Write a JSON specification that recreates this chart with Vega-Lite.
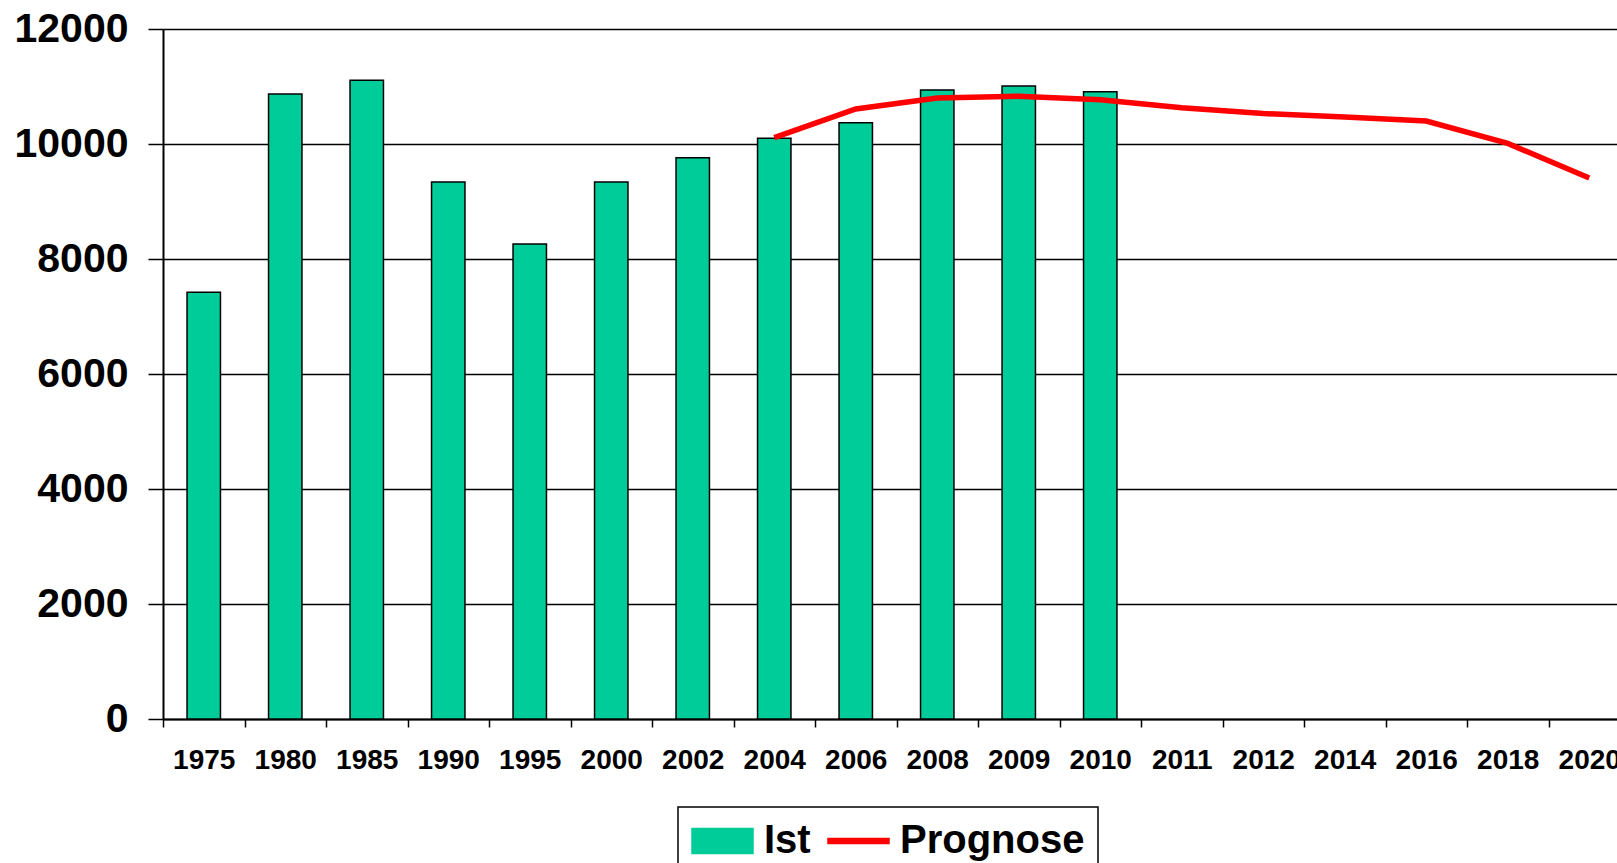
{
  "$schema": "https://vega.github.io/schema/vega-lite/v6.json",
  "autosize": {"type": "none"},
  "width": 1454,
  "height": 690,
  "padding": {"left": 163, "top": 29, "right": 0, "bottom": 144},
  "background": "white",
  "config": {
    "view": {"stroke": null},
    "font": "Liberation Sans"
  },
  "data": {
    "values": [
      {"year": "1975", "series": "Ist", "value": 7420},
      {"year": "1980", "series": "Ist", "value": 10870},
      {"year": "1985", "series": "Ist", "value": 11110},
      {"year": "1990", "series": "Ist", "value": 9340},
      {"year": "1995", "series": "Ist", "value": 8260},
      {"year": "2000", "series": "Ist", "value": 9340},
      {"year": "2002", "series": "Ist", "value": 9760},
      {"year": "2004", "series": "Ist", "value": 10100},
      {"year": "2006", "series": "Ist", "value": 10370},
      {"year": "2008", "series": "Ist", "value": 10940},
      {"year": "2009", "series": "Ist", "value": 11010},
      {"year": "2010", "series": "Ist", "value": 10910},
      {"year": "2004", "series": "Prognose", "value": 10110},
      {"year": "2006", "series": "Prognose", "value": 10610},
      {"year": "2008", "series": "Prognose", "value": 10800},
      {"year": "2009", "series": "Prognose", "value": 10830},
      {"year": "2010", "series": "Prognose", "value": 10770},
      {"year": "2011", "series": "Prognose", "value": 10630},
      {"year": "2012", "series": "Prognose", "value": 10530},
      {"year": "2014", "series": "Prognose", "value": 10470},
      {"year": "2016", "series": "Prognose", "value": 10400},
      {"year": "2018", "series": "Prognose", "value": 10010},
      {"year": "2020", "series": "Prognose", "value": 9410}
    ]
  },
  "encoding": {
    "x": {
      "field": "year",
      "type": "ordinal",
      "sort": ["1975","1980","1985","1990","1995","2000","2002","2004","2006","2008","2009","2010","2011","2012","2014","2016","2018","2020"],
      "scale": {
        "domain": ["1975","1980","1985","1990","1995","2000","2002","2004","2006","2008","2009","2010","2011","2012","2014","2016","2018","2020"],
        "type": "band", "paddingInner": 0, "paddingOuter": 0, "range": [0, 1467]
      },
      "axis": {
        "title": null,
        "labelAngle": 0,
        "labelFont": "Liberation Sans",
        "labelFontWeight": "bold",
        "labelFontSize": 28,
        "labelColor": "black",
        "labelPadding": 19,
        "tickBand": "extent",
        "tickSize": 8,
        "tickWidth": 1.5,
        "tickColor": "black",
        "domainColor": "black",
        "domainWidth": 2,
        "grid": false,
        "labelOverlap": false
      }
    },
    "y": {
      "field": "value",
      "type": "quantitative",
      "scale": {"domain": [0, 12000], "nice": false, "zero": true},
      "axis": {
        "title": null,
        "values": [0, 2000, 4000, 6000, 8000, 10000, 12000],
        "format": "d",
        "labelFont": "Liberation Sans",
        "labelFontWeight": "bold",
        "labelFontSize": 41,
        "labelColor": "black",
        "labelPadding": 20,
        "tickSize": 15,
        "tickWidth": 1.5,
        "tickColor": "black",
        "domainColor": "black",
        "domainWidth": 2,
        "grid": true,
        "gridColor": "black",
        "gridWidth": 1.5,
        "gridOpacity": 1
      }
    },
    "color": {
      "field": "series",
      "type": "nominal",
      "scale": {"domain": ["Ist", "Prognose"], "range": ["#00CC99", "#FF0000"]},
      "legend": {
        "title": null,
        "orient": "none",
        "legendX": 515,
        "legendY": 778,
        "direction": "horizontal",
        "padding": 13,
        "strokeColor": "black",
        "fillColor": "white",
        "labelFont": "Liberation Sans",
        "labelFontWeight": "bold",
        "labelFontSize": 40,
        "labelColor": "black",
        "labelLimit": 400,
        "labelOffset": 31,
        "columnPadding": 14,
        "symbolSize": 1600,
        "symbolStrokeWidth": 1.5,
        "symbolStrokeColor": "black",
        "encode": {
          "legend": {
            "update": {"strokeWidth": {"value": 1.5}}
          },
          "symbols": {
            "update": {
              "shape": {"signal": "datum.value === 'Ist' ? 'M-1,-0.63H2.05V0.63H-1Z' : 'M-1,-0.12H2.05V0.12H-1Z'"},
              "fill": {"signal": "datum.value === 'Ist' ? '#00CC99' : '#FF0000'"},
              "stroke": {"signal": "datum.value === 'Ist' ? '#000000' : '#FF0000'"},
              "strokeWidth": {"value": 1.5},
              "opacity": {"value": 1},
              "fillOpacity": {"value": 1},
              "strokeOpacity": {"value": 1}
            }
          }
        }
      }
    }
  },
  "layer": [
    {
      "transform": [{"filter": "datum.series === 'Ist'"}],
      "mark": {"type": "bar", "width": {"band": 0.41}, "stroke": "black", "strokeWidth": 1.5, "opacity": 1}
    },
    {
      "transform": [{"filter": "datum.series === 'Prognose'"}],
      "mark": {"type": "line", "strokeWidth": 5.5},
      "encoding": {}
    }
  ]
}
